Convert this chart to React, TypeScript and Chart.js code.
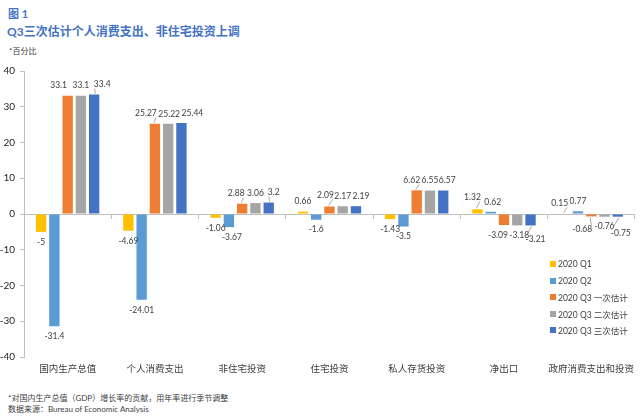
import React, { useEffect, useRef } from "react";
import { Chart, registerables } from "chart.js";

Chart.register(...registerables);

const categories = ["国内生产总值", "个人消费支出", "非住宅投资", "住宅投资", "私人存货投资", "净出口", "政府消费支出和投资"];
const seriesNames = ["2020 Q1", "2020 Q2", "2020 Q3 一次估计", "2020 Q3 二次估计", "2020 Q3 三次估计"];
const q1 = [-5, -4.69, -1.06, 0.66, -1.43, 1.32, 0.15];
const q2 = [-31.4, -24.01, -3.67, -1.6, -3.5, 0.62, 0.77];
const q3First = [33.1, 25.27, 2.88, 2.09, 6.62, -3.09, -0.68];
const q3Second = [33.1, 25.22, 3.06, 2.17, 6.55, -3.18, -0.76];
const q3Third = [33.4, 25.44, 3.2, 2.19, 6.57, -3.21, -0.75];
const yTicks = [-40, -30, -20, -10, 0, 10, 20, 30, 40];

const colors = ["#FFC000", "#5B9BD5", "#ED7D31", "#A5A5A5", "#4472C4"];
const FONT = "Lato, 'Noto Sans CJK SC', sans-serif";

// label nudges (dataset, category) -> [dx, dy, leader]
const labelNudges: Record<string, [number, number, boolean]> = {
  "2-0": [-9, 0, false],
  "4-0": [8, 0, true],
  "2-1": [-9, 0, true],
  "3-1": [1, 0, false],
  "4-1": [11, 0, false],
  "1-2": [3, 0, false],
  "2-2": [-6, 0, true],
  "4-2": [5, 0, true],
  "2-3": [-4, -1, true],
  "4-3": [5, 0, false],
  "2-4": [-5, 0, true],
  "4-4": [4, 0, false],
  "0-5": [-5, -2, true],
  "1-5": [2, 0, false],
  "2-5": [-6, 0, false],
  "3-5": [2, 0, false],
  "4-5": [5, 4, true],
  "0-6": [-5, 0, true],
  "2-6": [-9, 3, true],
  "4-6": [3, 7, true],
};

const labelPlugin = {
  id: "barLabels",
  afterDatasetsDraw(chart: any) {
    const ctx = chart.ctx;
    ctx.save();
    ctx.font = `8.5px ${FONT}`;
    ctx.fillStyle = "#404040";
    ctx.textAlign = "center";
    ctx.textBaseline = "middle";
    chart.data.datasets.forEach((ds: any, di: number) => {
      const meta = chart.getDatasetMeta(di);
      meta.data.forEach((el: any, i: number) => {
        const v = ds.data[i];
        const txt = String(v);
        const nudge = labelNudges[`${di}-${i}`] || [0, 0, false];
        const x = el.x + nudge[0];
        const y = (v >= 0 ? el.y - 10 : el.y + 10) + nudge[1];
        ctx.fillText(txt, x, y);
        if (nudge[2]) {
          const w = ctx.measureText(txt).width;
          const sx = nudge[0] > 0 ? x - w / 2 + 1 : x + w / 2 - 1;
          const sy = v >= 0 ? y + 4 : y - 4;
          ctx.strokeStyle = "#7f7f7f";
          ctx.lineWidth = 0.7;
          ctx.beginPath();
          ctx.moveTo(sx, sy);
          ctx.lineTo(el.x + (nudge[0] > 0 ? 1 : -1), v >= 0 ? el.y - 1 : el.y + 1);
          ctx.stroke();
        }
      });
    });
    ctx.restore();
  },
};

function ChartCanvas() {
  const ref = useRef<HTMLCanvasElement | null>(null);
  useEffect(() => {
    if (!ref.current) return;
    const seriesValues = [q1, q2, q3First, q3Second, q3Third];
    const chart = new Chart(ref.current, {
      type: "bar",
      data: {
        labels: categories,
        datasets: seriesNames.map((name, i) => ({
          label: name,
          data: seriesValues[i],
          backgroundColor: colors[i],
          borderWidth: 0,
          categoryPercentage: 0.76,
          barPercentage: 0.78,
          xAxisID: "x",
          yAxisID: "y",
        })),
      },
      options: {
        animation: false,
        responsive: false,
        maintainAspectRatio: false,
        layout: { padding: { top: 10, right: 0, left: 0, bottom: 0 } },
        plugins: {
          legend: { display: false },
          tooltip: { enabled: false },
        },
        scales: {
          x: {
            type: "category",
            position: { y: 0 } as any,
            offset: true,
            ticks: { display: false },
            grid: {
              display: true,
              drawOnChartArea: false,
              drawTicks: true,
              tickLength: 4,
              color: "#bfbfbf",
              offset: true,
            },
            border: { display: true, color: "#bfbfbf", width: 1 },
          },
          x2: {
            type: "category",
            labels: categories,
            position: "bottom",
            offset: true,
            grid: { display: false, drawTicks: false },
            border: { display: false },
            ticks: {
              color: "#404040",
              font: { size: 9.5, family: FONT },
              padding: 6,
              maxRotation: 0,
              autoSkip: false,
            },
            afterFit: (s: any) => {
              s.height = 23;
            },
          },
          y: {
            min: -40,
            max: 40,
            afterBuildTicks: (s: any) => {
              s.ticks = yTicks.map((v) => ({ value: v }));
            },
            grid: {
              display: true,
              drawOnChartArea: false,
              drawTicks: true,
              tickLength: 4,
              color: "#bfbfbf",
            },
            border: { display: true, color: "#bfbfbf", width: 1 },
            ticks: {
              color: "#262626",
              font: { size: 10, family: FONT },
              padding: 5,
            },
            afterFit: (s: any) => {
              s.width = 24;
            },
          },
        },
      },
      plugins: [labelPlugin],
    });
    return () => chart.destroy();
  }, []);
  return <canvas ref={ref} width={640} height={320} style={{ position: "absolute", left: 0, top: 60, width: 640, height: 320 }} />;
}

export default function App() {
  return (
    <div style={{ position: "fixed", left: 0, top: 0, width: 640, height: 418, background: "#fff", overflow: "hidden", fontFamily: FONT }}>
      <div style={{ position: "absolute", left: 8, top: 5, fontSize: 11, fontWeight: 700, color: "#4472C4" }}>图 1</div>
      <div style={{ position: "absolute", left: 7, top: 22, fontSize: 12, fontWeight: 700, color: "#4472C4", whiteSpace: "nowrap" }}>
        Q3三次估计个人消费支出、非住宅投资上调
      </div>
      <div style={{ position: "absolute", left: 9, top: 45, fontSize: 8, color: "#404040" }}>*百分比</div>
      <ChartCanvas />
      <div style={{ position: "absolute", left: 550, top: 256 }}>
        {seriesNames.map((n, i) => (
          <div key={n} style={{ display: "flex", alignItems: "center", height: 16.5, fontSize: 8.5, color: "#404040", whiteSpace: "nowrap" }}>
            <span style={{ display: "inline-block", width: 6, height: 6, background: colors[i], marginRight: 2 }} />
            {n}
          </div>
        ))}
      </div>
      <div style={{ position: "absolute", left: 8, top: 392, fontSize: 8, color: "#404040", whiteSpace: "nowrap" }}>
        *对国内生产总值（GDP）增长率的贡献，用年率进行季节调整
      </div>
      <div style={{ position: "absolute", left: 8, top: 403, fontSize: 8, color: "#404040", whiteSpace: "nowrap" }}>
        数据来源：Bureau of Economic Analysis
      </div>
    </div>
  );
}
